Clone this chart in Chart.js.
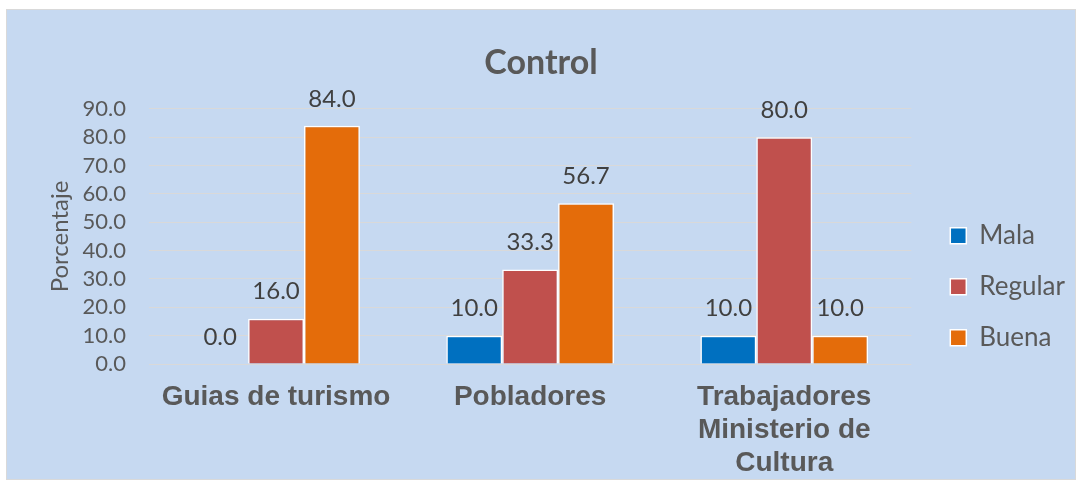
<!DOCTYPE html>
<html>
<head>
<meta charset="utf-8">
<title>Control</title>
<script src="https://cdn.jsdelivr.net/npm/chart.js@4.4.1/dist/chart.umd.min.js"></script>
<style>
  body { margin: 0; background: #ffffff; }
  #frame {
    position: absolute;
    left: 6px;
    top: 9px;
    width: 1070px;
    height: 471px;
    box-sizing: border-box;
    border: 1px solid #d9d9d9;
    background: #c6d9f1;
  }
</style>
</head>
<body>
<div id="frame"><canvas id="controlChart"></canvas></div>
<script>
const categories = ["Guias de turismo", "Pobladores", ["Trabajadores", "Ministerio de", "Cultura"]];
const seriesNames = ["Mala", "Regular", "Buena"];
const malaValues = [0.0, 10.0, 10.0];
const regularValues = [16.0, 33.3, 80.0];
const buenaValues = [84.0, 56.7, 10.0];
const seriesColors = ["#0070c0", "#c0504d", "#e46c0a"];

const textGray = "#595959";

// value labels above each bar
const barLabels = {
  id: "barLabels",
  afterDatasetsDraw(chart) {
    const ctx = chart.ctx;
    ctx.save();
    ctx.font = "24px Lato";
    ctx.fillStyle = "#404040";
    ctx.textAlign = "center";
    ctx.textBaseline = "middle";
    chart.data.datasets.forEach((ds, i) => {
      chart.getDatasetMeta(i).data.forEach((bar, j) => {
        ctx.fillText(ds.data[j].toFixed(1), bar.x, bar.y - 27);
      });
    });
    ctx.restore();
  }
};

new Chart(document.getElementById("controlChart"), {
  type: "bar",
  data: {
    labels: categories,
    datasets: [malaValues, regularValues, buenaValues].map((vals, i) => ({
      label: seriesNames[i],
      data: vals,
      backgroundColor: seriesColors[i],
      borderColor: "#ffffff",
      borderWidth: 1.5,
      categoryPercentage: 0.66,
      barPercentage: 1.0
    }))
  },
  options: {
    responsive: true,
    maintainAspectRatio: false,
    animation: false,
    layout: { padding: 0 },
    plugins: {
      title: {
        display: true,
        text: "Control",
        color: textGray,
        font: { family: "Lato", size: 34, weight: "bold" },
        padding: { top: 33, bottom: 25 }
      },
      legend: {
        position: "right",
        labels: {
          color: textGray,
          font: { family: "Lato", size: 26 },
          boxWidth: 16,
          boxHeight: 16,
          padding: 25
        },
        title: {
          display: true,
          text: "",
          font: { size: 12 },
          padding: { top: 70, bottom: 0 }
        }
      },
      tooltip: { enabled: false }
    },
    scales: {
      x: {
        grid: { display: false },
        border: { display: false },
        ticks: {
          color: textGray,
          font: { family: "Liberation Sans", size: 28, weight: "bold", lineHeight: 1.17 },
          padding: 9,
          maxRotation: 0,
          autoSkip: false
        },
        afterFit: s => { s.height = 115; }
      },
      y: {
        min: 0,
        max: 90,
        border: { display: false },
        grid: { color: "#d9d9d9", lineWidth: 1, drawTicks: false },
        ticks: {
          stepSize: 10,
          autoSkip: false,
          color: textGray,
          font: { family: "Lato", size: 22 },
          padding: 23,
          callback: v => v.toFixed(1)
        },
        title: {
          display: true,
          text: "Porcentaje",
          color: textGray,
          font: { family: "Lato", size: 24 },
          padding: { top: 39, bottom: 0 }
        },
        afterFit: s => { s.width = 142; }
      },
      gap: {
        position: "right",
        display: true,
        grid: { display: false },
        border: { display: false },
        ticks: { display: false },
        afterFit: s => { s.width = 14; }
      }
    }
  },
  plugins: [barLabels]
});
</script>
</body>
</html>
